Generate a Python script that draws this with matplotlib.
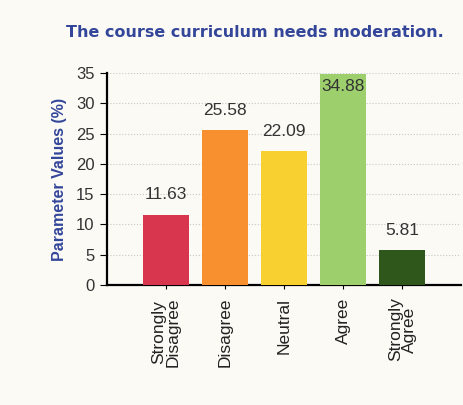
import numpy as np
import matplotlib.pyplot as plt

# data
categories = ['Strongly\nDisagree', 'Disagree', 'Neutral', 'Agree', 'Strongly\nAgree']
values = [11.63, 25.58, 22.09, 34.88, 5.81]
colors = ['#d8364f', '#f8902f', '#f8d030', '#9dcf6d', '#2f571b']
yticks = [0, 5, 10, 15, 20, 25, 30, 35]

bg = '#fbfaf4'
blue = '#34469a'
plt.rcParams['font.family'] = ['Liberation Sans', 'DejaVu Sans']

fig = plt.figure(figsize=(4.63, 4.05), dpi=100, facecolor=bg)
ax = fig.add_axes([0.231, 0.296, 0.765, 0.524], facecolor=bg)

x = np.arange(len(categories))
bars = ax.bar(x, values, width=0.79, color=colors, zorder=3)

# value labels
for xi, v in zip(x, values):
    if v > 32:
        ax.text(xi, v - 0.9, f'{v:.2f}', ha='center', va='top', fontsize=12.5, color='#333333', zorder=4)
    else:
        ax.text(xi, v + 2.0, f'{v:.2f}', ha='center', va='bottom', fontsize=12.5, color='#333333', zorder=4)

ax.set_xlim(-1, 5)
ax.set_ylim(0, 35)
ax.set_yticks(yticks)
ax.set_yticklabels([str(t) for t in yticks], fontsize=12, color='#333333')
ax.set_xticks(x)
ax.set_xticklabels(categories, rotation=90, fontsize=12.5, color='#222222', linespacing=0.9)
ax.tick_params(axis='y', length=5, direction='out', width=0.8, pad=4)
ax.tick_params(axis='x', length=3, width=0.8, pad=6)

ax.yaxis.grid(True, linestyle=':', color='#c8c8c8', linewidth=0.8, zorder=0)
for side in ['top', 'right']:
    ax.spines[side].set_visible(False)
ax.spines['left'].set_linewidth(1.6)
ax.spines['bottom'].set_linewidth(1.6)

ax.set_ylabel('Parameter Values (%)', fontsize=11.5, fontweight='bold', color=blue, labelpad=6)
fig.text(0.55, 0.92, 'The course curriculum needs moderation.', ha='center', va='center',
         fontsize=11.5, fontweight='bold', color=blue, family='DejaVu Sans')

fig.savefig('out.png', dpi=100, facecolor=bg)
